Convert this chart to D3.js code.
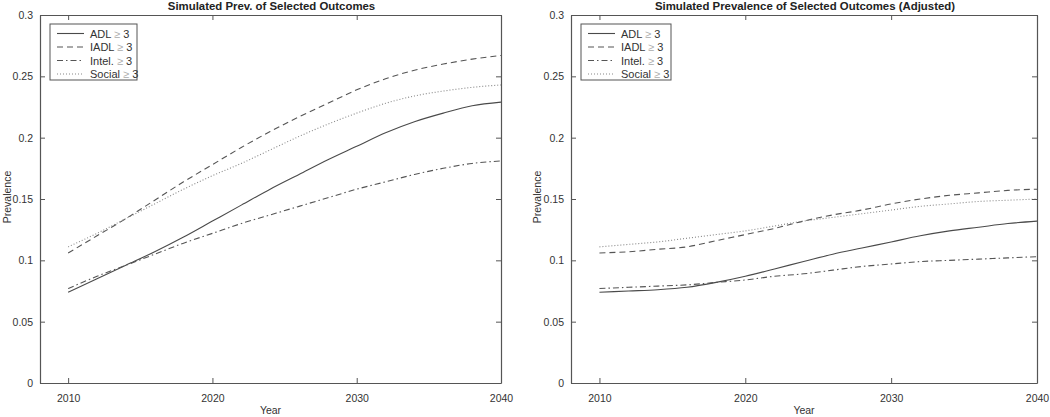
<!DOCTYPE html>
<html>
<head>
<meta charset="utf-8">
<script src="https://cdn.jsdelivr.net/npm/d3@7"></script>
<style>
  body { margin: 0; background: #fff; }
  svg { display: block; font-family: "Liberation Sans", Arial, sans-serif; }
</style>
</head>
<body>
<svg id="chart" width="1050" height="417"></svg>
<script>
// ---- Data ----
const years = [2010, 2012, 2014, 2016, 2018, 2020, 2022, 2024, 2026, 2028, 2030, 2032, 2034, 2036, 2038, 2040];
const seriesNames = ["ADL", "IADL", "Intel.", "Social"];

// Left panel: Simulated Prev. of Selected Outcomes
const leftADL    = [0.074, 0.085, 0.096, 0.107, 0.119, 0.132, 0.145, 0.158, 0.170, 0.182, 0.193, 0.204, 0.213, 0.220, 0.226, 0.229];
const leftIADL   = [0.106, 0.120, 0.134, 0.149, 0.164, 0.178, 0.192, 0.205, 0.217, 0.228, 0.239, 0.248, 0.255, 0.260, 0.264, 0.267];
const leftIntel  = [0.077, 0.087, 0.096, 0.105, 0.114, 0.122, 0.130, 0.137, 0.144, 0.151, 0.158, 0.164, 0.170, 0.175, 0.179, 0.181];
const leftSocial = [0.111, 0.122, 0.134, 0.146, 0.158, 0.169, 0.179, 0.190, 0.201, 0.211, 0.220, 0.228, 0.234, 0.238, 0.241, 0.243];

// Right panel: Simulated Prevalence of Selected Outcomes (Adjusted)
const rightADL    = [0.074, 0.075, 0.076, 0.078, 0.082, 0.087, 0.093, 0.099, 0.105, 0.110, 0.115, 0.120, 0.124, 0.127, 0.130, 0.132];
const rightIADL   = [0.106, 0.107, 0.109, 0.111, 0.116, 0.121, 0.126, 0.132, 0.137, 0.141, 0.146, 0.150, 0.153, 0.155, 0.157, 0.158];
const rightIntel  = [0.077, 0.078, 0.079, 0.080, 0.082, 0.084, 0.087, 0.089, 0.092, 0.095, 0.097, 0.099, 0.100, 0.101, 0.102, 0.103];
const rightSocial = [0.111, 0.113, 0.115, 0.118, 0.121, 0.124, 0.128, 0.132, 0.135, 0.138, 0.141, 0.144, 0.146, 0.148, 0.149, 0.150];

const xTicks = [2010, 2020, 2030, 2040];
const yTicks = [0, 0.05, 0.1, 0.15, 0.2, 0.25, 0.3];
const titles = ["Simulated Prev. of Selected Outcomes", "Simulated Prevalence of Selected Outcomes (Adjusted)"];
const xLabel = "Year";
const yLabel = "Prevalence";

// ---- Styles ----
const dashes = ["none", "6,4", "6,3,1.5,3", "1,2"];
const strokes = ["#4a4a4a", "#555", "#555", "#888"];
const axisColor = "#555";
const textColor = "#333";

const svg = d3.select("#chart");

const panels = [
  { left: 40,  right: 501,  top: 15, bottom: 383, title: titles[0], ylabX: 11,
    series: [leftADL, leftIADL, leftIntel, leftSocial], legendW: 87 },
  { left: 571, right: 1037, top: 15, bottom: 383, title: titles[1], ylabX: 541,
    series: [rightADL, rightIADL, rightIntel, rightSocial], legendW: 90 }
];

panels.forEach(p => {
  const x = d3.scaleLinear().domain([2008.05, 2040]).range([p.left, p.right]);
  const y = d3.scaleLinear().domain([0, 0.3]).range([p.bottom, p.top]);
  const g = svg.append("g");

  // Lines
  const line = d3.line()
    .x((d, i) => x(years[i]))
    .y(d => y(d))
    .curve(d3.curveMonotoneX);

  p.series.forEach((vals, k) => {
    g.append("path")
      .datum(vals)
      .attr("d", line)
      .attr("fill", "none")
      .attr("stroke", strokes[k])
      .attr("stroke-width", 1.1)
      .attr("stroke-dasharray", dashes[k]);
  });

  // Axes (inward ticks) bottom/left with labels, top/right ticks only
  const fmt = d => d === 0 ? "0" : String(d);
  const bottom = g.append("g").attr("transform", `translate(0,${p.bottom})`)
    .call(d3.axisBottom(x).tickValues(xTicks).tickSizeInner(-5).tickSizeOuter(0).tickPadding(12).tickFormat(d3.format("d")));
  const top = g.append("g").attr("transform", `translate(0,${p.top})`)
    .call(d3.axisTop(x).tickValues(xTicks).tickSizeInner(-5).tickSizeOuter(0).tickFormat(""));
  const leftAx = g.append("g").attr("transform", `translate(${p.left},0)`)
    .call(d3.axisLeft(y).tickValues(yTicks).tickSizeInner(-5).tickSizeOuter(0).tickPadding(7).tickFormat(fmt));
  const rightAx = g.append("g").attr("transform", `translate(${p.right},0)`)
    .call(d3.axisRight(y).tickValues(yTicks).tickSizeInner(-5).tickSizeOuter(0).tickFormat(""));

  [bottom, top, leftAx, rightAx].forEach(a => {
    a.select(".domain").attr("stroke", axisColor).attr("stroke-width", 1.2);
    a.selectAll(".tick line").attr("stroke", axisColor);
    a.selectAll(".tick text").attr("fill", textColor).attr("font-size", 10.5)
      .attr("font-family", "Liberation Sans, Arial, sans-serif");
  });

  // Title
  g.append("text")
    .attr("x", (p.left + p.right) / 2 + 1)
    .attr("y", 10)
    .attr("text-anchor", "middle")
    .attr("font-size", 11.4)
    .attr("font-weight", "bold")
    .attr("fill", "#222")
    .text(p.title);

  // Axis labels
  g.append("text")
    .attr("x", (p.left + p.right) / 2)
    .attr("y", 414)
    .attr("text-anchor", "middle")
    .attr("font-size", 10.5)
    .attr("fill", textColor)
    .text(xLabel);
  g.append("text")
    .attr("transform", `translate(${p.ylabX},${(p.top + p.bottom) / 2 - 2}) rotate(-90)`)
    .attr("text-anchor", "middle")
    .attr("font-size", 10.5)
    .attr("fill", textColor)
    .text(yLabel);

  // Legend
  const lx = p.left + 10, ly = 24;
  const lg = g.append("g");
  lg.append("rect")
    .attr("x", lx).attr("y", ly)
    .attr("width", p.legendW).attr("height", 56)
    .attr("fill", "#fff").attr("stroke", axisColor).attr("stroke-width", 1);
  seriesNames.forEach((name, k) => {
    const ry = ly + 9.5 + k * 13.5;
    lg.append("line")
      .attr("x1", lx + 7).attr("x2", lx + 34)
      .attr("y1", ry).attr("y2", ry)
      .attr("stroke", strokes[k]).attr("stroke-width", 1.1)
      .attr("stroke-dasharray", dashes[k]);
    const t = lg.append("text")
      .attr("x", lx + 40).attr("y", ry + 4)
      .attr("font-size", 11).attr("fill", textColor);
    t.append("tspan").text(name + " ");
    t.append("tspan").attr("fill", "#aaa").text("≥");
    t.append("tspan").text(" 3");
  });
});
</script>
</body>
</html>
